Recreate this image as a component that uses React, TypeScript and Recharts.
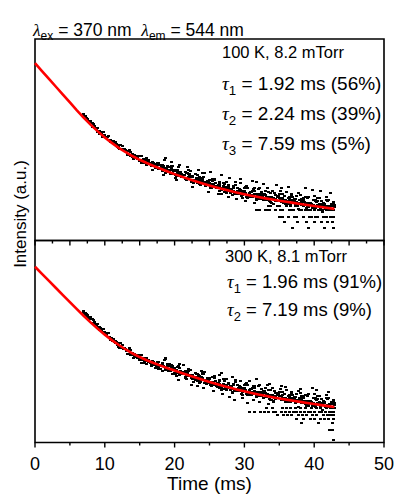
import { ScatterChart, Scatter, XAxis, YAxis, ReferenceArea } from 'recharts'

// sampling grids (ms)
const timesA = [7, 7.5, 8, 8.5, 9, 9.5, 10, 10.5, 11, 11.5, 12, 12.5, 13, 13.5, 14, 14.5, 15, 15.5, 16, 16.5, 17, 17.5, 18, 18.5, 19, 19.5, 20, 20.5, 21, 21.5, 22, 22.5, 23, 23.5, 24, 24.5, 25, 25.5, 26, 26.5, 27, 27.5, 28, 28.5, 29, 29.5, 30, 30.5, 31, 31.5, 32, 32.5, 33, 33.5, 34, 34.5, 35, 35.5, 36, 36.5, 37, 37.5, 38, 38.5, 39, 39.5, 40, 40.5, 41, 41.5, 42, 42.5]
const timesB = [7.25, 7.75, 8.25, 8.75, 9.25, 9.75, 10.25, 10.75, 11.25, 11.75, 12.25, 12.75, 13.25, 13.75, 14.25, 14.75, 15.25, 15.75, 16.25, 16.75, 17.25, 17.75, 18.25, 18.75, 19.25, 19.75, 20.25, 20.75, 21.25, 21.75, 22.25, 22.75, 23.25, 23.75, 24.25, 24.75, 25.25, 25.75, 26.25, 26.75, 27.25, 27.75, 28.25, 28.75, 29.25, 29.75, 30.25, 30.75, 31.25, 31.75, 32.25, 32.75, 33.25, 33.75, 34.25, 34.75, 35.25, 35.75, 36.25, 36.75, 37.25, 37.75, 38.25, 38.75, 39.25, 39.75, 40.25, 40.75, 41.25, 41.75, 42.25, 42.75]
const timesC = [7.125, 7.625, 8.125, 8.625, 9.125, 9.625, 10.125, 10.625, 11.125, 11.625, 12.125, 12.625, 13.125, 13.625, 14.125, 14.625, 15.125, 15.625, 16.125, 16.625, 17.125, 17.625, 18.125, 18.625, 19.125, 19.625, 20.125, 20.625, 21.125, 21.625, 22.125, 22.625, 23.125, 23.625, 24.125, 24.625, 25.125, 25.625, 26.125, 26.625, 27.125, 27.625, 28.125, 28.625, 29.125, 29.625, 30.125, 30.625, 31.125, 31.625, 32.125, 32.625, 33.125, 33.625, 34.125, 34.625, 35.125, 35.625, 36.125, 36.625, 37.125, 37.625, 38.125, 38.625, 39.125, 39.625, 40.125, 40.625, 41.125, 41.625, 42.125, 42.625]
const timesD = [7.375, 7.875, 8.375, 8.875, 9.375, 9.875, 10.375, 10.875, 11.375, 11.875, 12.375, 12.875, 13.375, 13.875, 14.375, 14.875, 15.375, 15.875, 16.375, 16.875, 17.375, 17.875, 18.375, 18.875, 19.375, 19.875, 20.375, 20.875, 21.375, 21.875, 22.375, 22.875, 23.375, 23.875, 24.375, 24.875, 25.375, 25.875, 26.375, 26.875, 27.375, 27.875, 28.375, 28.875, 29.375, 29.875, 30.375, 30.875, 31.375, 31.875, 32.375, 32.875, 33.375, 33.875, 34.375, 34.875, 35.375, 35.875, 36.375, 36.875, 37.375, 37.875, 38.375, 38.875, 39.375, 39.875, 40.375, 40.875, 41.375, 41.875, 42.375, 42.875]
const timesE = [18.2, 18.7, 19.2, 19.7, 20.2, 20.7, 21.2, 21.7, 22.2, 22.7, 23.2, 23.7, 24.2, 24.7, 25.2, 25.7, 26.2, 26.7, 27.2, 27.7, 28.2, 28.7, 29.2, 29.7, 30.2, 30.7, 31.2, 31.7, 32.2, 32.7, 33.2, 33.7, 34.2, 34.7, 35.2, 35.7, 36.2, 36.7, 37.2, 37.7, 38.2, 38.7, 39.2, 39.7, 40.2, 40.7, 41.2, 41.7, 42.2, 42.7]
const timesF = [18.45, 18.95, 19.45, 19.95, 20.45, 20.95, 21.45, 21.95, 22.45, 22.95, 23.45, 23.95, 24.45, 24.95, 25.45, 25.95, 26.45, 26.95, 27.45, 27.95, 28.45, 28.95, 29.45, 29.95, 30.45, 30.95, 31.45, 31.95, 32.45, 32.95, 33.45, 33.95, 34.45, 34.95, 35.45, 35.95, 36.45, 36.95, 37.45, 37.95, 38.45, 38.95, 39.45, 39.95, 40.45, 40.95, 41.45, 41.95, 42.45, 42.95]
const fitTimes = [0, 1, 2, 3, 4, 5, 6, 7, 8, 9, 10, 11, 12, 13, 14, 15, 16, 17, 18, 19, 20, 21, 22, 23, 24, 25, 26, 27, 28, 29, 30, 31, 32, 33, 34, 35, 36, 37, 38, 39, 40, 41, 42, 42.9]

const ticksTop = [0, 2.5, 5, 7.5, 10, 12.5, 15, 17.5, 20, 22.5, 25, 27.5, 30, 32.5, 35, 37.5, 40, 42.5, 45, 47.5, 50]
const ticksBottom = [0, 5, 10, 15, 20, 25, 30, 35, 40, 45, 50]

// 100 K panel (intensity, arbitrary units)
const topFit = [88, 84.1, 80.2, 76.3, 72.4, 68.5, 64.6, 60.9, 57.4, 54.15, 51.15, 48.45, 46.0, 43.8, 41.8, 40.05, 38.45, 37.0, 35.6, 34.25, 32.95, 31.7, 30.5, 29.37, 28.3, 27.28, 26.31, 25.39, 24.52, 23.7, 22.93, 22.21, 21.54, 20.91, 20.31, 19.74, 19.19, 18.66, 18.14, 17.63, 17.13, 16.63, 16.13, 15.68]
const topA1 = [62.1, 59.8, 58.4, 56.2, 53.9, 53.2, 51.6, 50.0, 49.6, 47.6, 45.7, 45.5, 44.7, 42.2, 41.5, 41.9, 39.7, 39.6, 37.7, 38.5, 37.3, 37.6, 35.4, 36.1, 34.7, 35.9, 33.1, 33.2, 33.2, 30.8, 31.3, 31.7, 29.5, 30.0, 30.2, 27.4, 27.7, 28.0, 26.3, 24.8, 26.0, 26.2, 23.8, 24.4, 24.4, 23.0, 24.6, 22.6, 21.4, 23.1, 22.0, 20.9, 22.5, 20.7, 21.3, 19.6, 20.9, 19.9, 18.5, 20.4, 18.8, 19.2, 20.2, 17.8, 18.3, 18.7, 16.7, 17.8, 17.0, 18.0, 15.8, 16.9]
const topA2 = [62.7, 60.3, 59.2, 56.7, 55.7, 52.9, 52.4, 51.8, 49.3, 48.7, 46.7, 47.1, 44.8, 45.1, 42.7, 41.2, 41.8, 40.3, 40.8, 38.2, 38.7, 38.7, 37.3, 39.9, 36.8, 37.0, 35.1, 36.6, 32.8, 34.0, 35.2, 31.8, 32.9, 31.4, 33.3, 29.2, 30.2, 30.5, 27.2, 29.1, 27.2, 29.2, 25.8, 26.8, 26.0, 28.3, 23.8, 26.0, 24.3, 25.9, 22.9, 24.1, 24.7, 21.4, 24.8, 22.5, 22.9, 21.3, 24.3, 21.7, 20.1, 22.0, 22.5, 20.0, 21.1, 18.6, 22.0, 19.5, 19.7, 18.2, 20.1, 18.2]
const topB1 = [60.6, 59.4, 56.5, 55.3, 54.1, 51.6, 51.1, 48.7, 48.8, 46.9, 45.3, 45.5, 42.4, 42.4, 40.7, 41.0, 38.3, 39.1, 38.8, 36.9, 37.8, 36.1, 34.5, 35.7, 34.6, 32.9, 34.6, 32.1, 32.4, 30.0, 31.6, 30.1, 28.7, 30.0, 27.9, 28.5, 26.1, 26.9, 27.4, 25.0, 25.0, 25.4, 22.7, 24.1, 24.4, 22.8, 21.7, 23.6, 22.4, 21.1, 22.1, 20.0, 21.8, 20.7, 19.9, 21.5, 18.9, 20.0, 19.1, 20.1, 17.5, 18.7, 19.1, 17.4, 18.8, 17.4, 16.3, 17.6, 17.9, 16.1, 16.6, 15.1]
const topB2 = [61.8, 58.5, 58.4, 55.5, 52.8, 53.6, 51.5, 49.6, 49.3, 46.6, 47.4, 45.3, 42.3, 44.0, 42.3, 40.3, 42.0, 38.4, 39.8, 38.2, 35.9, 38.6, 37.5, 40.8, 34.9, 36.9, 31.9, 37.4, 32.7, 33.5, 34.6, 28.3, 32.3, 29.5, 33.5, 29.7, 26.1, 30.2, 27.6, 32.3, 25.3, 27.5, 22.4, 28.8, 25.8, 24.2, 27.2, 21.4, 25.7, 28.9, 22.3, 23.1, 26.3, 19.1, 23.6, 21.4, 25.9, 22.1, 18.6, 23.2, 20.6, 23.4, 18.7, 21.5, 16.5, 25.0, 19.6, 21.0, 17.7, 21.8, 16.3, 19.0]
const topC = [61.6, 59.0, 58.2, 55.6, 54.2, 51.6, 51.6, 49.9, 48.2, 47.9, 45.3, 45.0, 44.0, 42.0, 40.4, 40.9, 39.8, 38.5, 39.1, 37.5, 37.4, 35.4, 36.7, 35.2, 34.2, 34.9, 32.6, 32.9, 32.6, 30.5, 32.0, 30.0, 30.0, 28.0, 29.2, 28.0, 26.7, 27.8, 25.9, 26.3, 24.3, 24.8, 25.1, 23.2, 23.8, 21.9, 23.6, 22.3, 21.6, 22.9, 20.7, 21.4, 21.6, 19.5, 20.9, 19.8, 20.8, 18.8, 19.6, 18.0, 19.4, 18.5, 17.7, 18.9, 17.4, 18.2, 16.0, 17.4, 16.8, 15.7, 17.0, 15.7]
const topD = [61.0, 58.7, 57.6, 55.1, 53.8, 51.8, 51.6, 49.7, 48.2, 47.5, 45.6, 45.2, 44.5, 42.2, 41.6, 41.9, 39.7, 39.8, 38.6, 39.0, 36.7, 37.4, 36.8, 35.5, 36.7, 34.6, 33.3, 34.2, 32.5, 33.3, 31.7, 30.2, 30.9, 30.7, 28.8, 29.0, 27.2, 28.7, 27.0, 25.8, 26.6, 25.2, 26.3, 24.1, 24.4, 24.7, 22.8, 24.2, 22.8, 22.0, 22.9, 23.2, 21.4, 21.6, 20.5, 21.8, 21.0, 19.9, 21.2, 19.8, 18.7, 19.9, 20.4, 18.7, 18.8, 17.8, 18.9, 17.8, 18.6, 16.8, 17.3, 16.5]
const topE = [36.8, 33.6, 36.5, 33.7, 31.1, 34.1, 32.2, 30.3, 33.2, 29.8, 30.9, 27.3, 31.3, 29.0, 25.9, 30.4, 26.8, 23.2, 27.9, 26.5, 23.9, 27.4, 24.4, 21.1, 26.4, 22.8, 24.7, 20.1, 26.0, 22.5, 20.1, 23.8, 18.2, 22.1, 24.5, 19.6, 17.9, 22.7, 20.4, 15.6, 20.8, 18.7, 21.8, 16.3, 20.0, 18.3, 14.2, 20.0, 16.5, 18.2]
const topF = [35.7, 36.4, 32.9, 34.4, 34.8, 31.5, 32.3, 32.8, 28.9, 29.7, 30.5, 30.9, 27.0, 28.5, 29.4, 26.1, 27.9, 28.7, 23.6, 25.2, 26.6, 23.0, 25.0, 26.0, 21.3, 22.7, 24.6, 25.5, 20.8, 22.4, 23.9, 18.7, 20.8, 22.2, 23.1, 18.2, 20.0, 21.7, 18.2, 20.1, 21.2, 16.2, 17.9, 19.9, 21.0, 15.8, 17.9, 19.6, 15.8, 17.8]
const topHigh = [[19.6, 39.2], [21.8, 36.4], [23.4, 34.9], [25.1, 33.8], [27.9, 31.0], [29.4, 30.6], [31.1, 29.3], [32.8, 28.1], [34.6, 27.4], [36.3, 26.5], [38.7, 25.9], [40.9, 24.6], [42.3, 23.7]]
const topLow = [[16.8, 35.2], [18.4, 32.4], [20.3, 29.8], [22.6, 26.4], [24.9, 24.0], [26.3, 22.9], [27.7, 21.5], [28.9, 20.6], [30.2, 19.4], [31.4, 18.6]]
const topRowLevels = [17.3, 14.9, 11.6, 9.1, 6.0]
const topRowTimes = [
  [33.4, 33.7, 34.8, 35.1, 36.0, 36.6, 37.3, 37.6, 38.5, 39.0, 39.8, 40.4, 41.1, 41.6, 42.0, 42.5, 42.8],
  [31.8, 32.1, 33.0, 33.3, 33.6, 34.5, 35.2, 35.5, 36.4, 36.7, 37.0, 37.9, 38.2, 38.8, 39.1, 39.4, 40.0, 40.6, 40.9, 41.2, 41.8, 42.1, 42.4, 42.7],
  [35.1, 35.4, 36.3, 37.2, 37.5, 38.4, 39.3, 39.6, 40.2, 40.5, 41.4, 41.7, 42.3, 42.6, 42.8],
  [35.8, 37.6, 38.9, 40.1, 41.0, 41.9, 42.6],
  [36.9, 39.2, 41.5, 42.7],
]

// 300 K panel
const botFit = [87, 83.5, 80, 76.5, 73, 69.5, 66.0, 62.6, 59.35, 56.3, 53.4, 50.7, 48.25, 46.05, 44.05, 42.3, 40.75, 39.35, 38.05, 36.8, 35.6, 34.42, 33.27, 32.15, 31.06, 30.0, 28.98, 28.0, 27.06, 26.17, 25.33, 24.54, 23.8, 23.1, 22.44, 21.82, 21.23, 20.66, 20.11, 19.57, 19.04, 18.52, 18.01, 17.56]
const botA1 = [64.5, 62.3, 61.2, 59.1, 56.9, 56.2, 54.1, 52.2, 51.5, 49.3, 47.1, 46.9, 46.1, 43.7, 43.1, 43.4, 41.0, 40.8, 38.9, 39.7, 38.5, 38.8, 36.5, 37.2, 35.8, 37.1, 34.3, 34.5, 34.5, 32.2, 32.7, 33.2, 31.0, 31.6, 31.8, 29.0, 29.4, 29.8, 28.1, 26.8, 28.0, 28.3, 26.0, 26.7, 26.7, 25.3, 26.8, 24.9, 23.7, 25.4, 24.3, 23.2, 24.7, 22.9, 23.3, 21.6, 22.9, 21.9, 20.4, 22.4, 20.7, 21.1, 22.0, 19.7, 20.1, 20.6, 18.5, 19.7, 18.9, 19.9, 17.7, 18.9]
const botA2 = [65.1, 62.9, 61.9, 59.6, 58.7, 55.9, 54.9, 54.0, 51.2, 50.4, 48.1, 48.5, 46.2, 46.6, 44.3, 42.7, 43.1, 41.6, 42.0, 39.5, 39.9, 39.8, 38.4, 41.0, 37.9, 38.2, 36.3, 37.9, 34.1, 35.4, 36.6, 33.3, 34.4, 33.0, 34.9, 30.8, 31.9, 32.3, 29.0, 31.1, 29.2, 31.3, 28.0, 29.1, 28.3, 30.6, 26.0, 28.3, 26.6, 28.2, 25.2, 26.4, 26.9, 23.6, 26.8, 24.5, 24.9, 23.3, 26.2, 23.7, 22.0, 23.9, 24.3, 21.9, 22.9, 20.5, 23.8, 21.4, 21.6, 20.1, 22.0, 20.2]
const botB1 = [63.1, 62.1, 59.2, 58.3, 57.1, 54.3, 53.4, 50.7, 50.6, 48.5, 46.7, 46.9, 43.8, 43.9, 42.3, 42.4, 39.6, 40.3, 40.0, 38.1, 39.0, 37.2, 35.6, 36.8, 35.7, 34.1, 35.8, 33.4, 33.7, 31.4, 33.0, 31.6, 30.2, 31.6, 29.5, 30.2, 27.9, 28.7, 29.3, 26.9, 27.0, 27.5, 24.9, 26.4, 26.6, 25.0, 24.0, 25.9, 24.7, 23.4, 24.3, 22.2, 23.9, 22.8, 21.9, 23.5, 20.9, 22.0, 21.0, 22.0, 19.4, 20.6, 20.9, 19.2, 20.6, 19.2, 18.1, 19.4, 19.8, 17.9, 18.5, 17.0]
const botB2 = [64.2, 61.2, 61.2, 58.5, 55.8, 56.3, 53.8, 51.6, 51.1, 48.2, 49.1, 46.7, 43.8, 45.6, 43.9, 41.7, 43.2, 39.6, 41.0, 39.4, 37.1, 39.7, 38.6, 41.9, 36.0, 38.1, 33.1, 38.7, 34.0, 34.9, 36.0, 29.8, 33.8, 31.1, 35.1, 31.4, 27.9, 32.0, 29.5, 34.2, 27.3, 29.6, 24.6, 31.1, 28.0, 26.4, 29.5, 23.7, 28.0, 31.2, 24.5, 25.3, 28.4, 21.2, 25.6, 23.4, 27.9, 24.1, 20.5, 25.1, 22.5, 25.3, 20.5, 23.3, 18.3, 26.8, 21.4, 22.8, 19.6, 23.6, 18.2, 20.9]
const botC = [64.0, 61.6, 60.9, 58.4, 57.2, 54.6, 54.1, 52.1, 50.1, 49.6, 46.7, 46.4, 45.4, 43.5, 42.0, 42.4, 41.1, 39.7, 40.3, 38.7, 38.6, 36.5, 37.8, 36.3, 35.3, 36.1, 33.8, 34.2, 33.9, 31.8, 33.4, 31.4, 31.5, 29.5, 30.8, 29.6, 28.4, 29.6, 27.7, 28.2, 26.3, 26.9, 27.3, 25.4, 26.1, 24.1, 25.8, 24.6, 23.9, 25.2, 23.0, 23.6, 23.8, 21.6, 22.9, 21.8, 22.8, 20.8, 21.5, 19.9, 21.3, 20.4, 19.5, 20.7, 19.2, 20.0, 17.8, 19.2, 18.7, 17.5, 18.9, 17.6]
const botD = [63.5, 61.4, 60.4, 58.1, 56.8, 54.5, 54.0, 51.7, 50.0, 49.1, 47.0, 46.6, 45.9, 43.7, 43.2, 43.3, 41.0, 41.0, 39.9, 40.2, 37.9, 38.5, 37.9, 36.6, 37.9, 35.8, 34.6, 35.5, 33.8, 34.6, 33.1, 31.7, 32.4, 32.3, 30.4, 30.6, 28.9, 30.5, 28.9, 27.8, 28.7, 27.4, 28.5, 26.4, 26.7, 27.0, 25.0, 26.5, 25.1, 24.3, 25.2, 25.5, 23.6, 23.7, 22.5, 23.8, 23.0, 21.9, 23.2, 21.7, 20.6, 21.7, 22.3, 20.5, 20.7, 19.6, 20.8, 19.7, 20.5, 18.7, 19.3, 18.4]
const botE = [39.3, 36.1, 39.1, 36.3, 33.8, 36.8, 34.9, 33.1, 35.9, 32.6, 33.7, 30.1, 34.1, 31.7, 28.6, 33.1, 29.5, 25.8, 30.5, 29.0, 26.5, 29.8, 26.9, 23.5, 28.8, 25.2, 27.0, 22.4, 28.3, 24.7, 22.3, 25.9, 20.3, 24.2, 26.6, 21.6, 19.9, 24.7, 22.4, 17.6, 22.8, 20.6, 23.8, 18.2, 21.9, 20.2, 16.1, 21.9, 18.4, 20.1]
const botF = [38.1, 38.9, 35.5, 37.0, 37.5, 34.2, 35.0, 35.5, 31.7, 32.5, 33.3, 33.7, 29.7, 31.2, 32.2, 28.8, 30.5, 31.3, 26.2, 27.7, 29.2, 25.5, 27.4, 28.4, 23.7, 25.1, 26.9, 27.8, 23.1, 24.6, 26.1, 20.8, 22.9, 24.3, 25.2, 20.2, 22.0, 23.7, 20.2, 22.1, 23.2, 18.1, 19.9, 21.8, 22.9, 17.7, 19.8, 21.5, 17.7, 19.7]
const botHigh = [[18.7, 41.3], [21.3, 38.2], [23.9, 35.6], [26.4, 33.2], [28.3, 32.4], [30.8, 30.2], [33.6, 28.9], [35.9, 27.6], [38.1, 26.4], [40.3, 25.9], [42.1, 25.1]]
const botLow = [[20.6, 31.0], [22.4, 28.6], [23.3, 28.0], [24.1, 27.0], [25.6, 25.3], [26.8, 23.9], [27.9, 22.6], [28.6, 20.8], [29.7, 22.1], [30.4, 19.6], [31.3, 21.0], [32.2, 19.9], [33.4, 18.9], [34.1, 20.1]]
const botRowLevels = [17.1, 15.1, 13.6, 11.6, 9.8, 6.2, 1.0]
const botRowTimes = [
  [33.2, 34.0, 35.4, 36.0, 36.6, 37.3, 38.1, 38.8, 39.6, 40.3, 40.9, 41.8, 42.4, 42.9],
  [30.8, 31.4, 32.3, 32.9, 33.5, 34.1, 34.4, 35.3, 35.9, 36.5, 37.1, 37.4, 38.0, 38.6, 39.2, 39.5, 40.1, 40.7, 41.0, 41.6, 42.2, 42.5, 42.8],
  [34.7, 35.6, 36.2, 36.8, 37.7, 38.3, 38.9, 39.8, 40.4, 41.3, 41.9, 42.4, 42.8],
  [37.5, 38.5, 39.4, 40.0, 40.9, 41.5, 42.0, 42.7],
  [38.2, 40.6, 42.6],
  [42.2, 42.6],
  [42.7],
]

type Pt = { t: number; y: number }
const pts = (ts: number[], ys: number[]): Pt[] => ts.map((t, i) => ({ t, y: ys[i] }))
const pairPts = (ps: number[][]): Pt[] => ps.map(([t, y]) => ({ t, y }))
const rowPts = (levels: number[], times: number[][]): Pt[] =>
  levels.flatMap((lv, i) => times[i].map((t) => ({ t, y: lv })))

const W = 396
const H = 496
const AXIS_H = 30
const FONT = '"Liberation Sans", Arial, sans-serif'
const GREEK = '"Liberation Serif", "Times New Roman", serif'

function Dot(props: any) {
  const { cx, cy } = props
  if (cx == null || cy == null) return <g />
  return <rect x={Math.round(cx - 1.5)} y={Math.round(cy - 1)} width={3} height={2} fill="#000" shapeRendering="crispEdges" />
}

function TopTick({ x, y, payload }: any) {
  const major = payload.value % 5 === 0
  return <line x1={x} x2={x} y1={y} y2={y + (major ? 5 : 3)} stroke="#000" strokeWidth={1.4} />
}

function BottomTick({ x, y, payload }: any) {
  const major = payload.value % 10 === 0
  return (
    <g>
      <line x1={x} x2={x} y1={y} y2={y + (major ? 5 : 3)} stroke="#000" strokeWidth={1.4} />
      {major && (
        <text x={x} y={y + 27.5} textAnchor="middle" fontSize={18} fontFamily={FONT} fill="#000">
          {payload.value}
        </text>
      )}
    </g>
  )
}

function Panel({ top, bottom, fit, dots, ticks, tick }: any) {
  return (
    <div style={{ position: 'absolute', left: 0, top: 0 }}>
      <ScatterChart width={W} height={H} margin={{ top, right: 12, bottom, left: 35 }}>
        <XAxis
          type="number"
          dataKey="t"
          domain={[0, 50]}
          ticks={ticks}
          interval={0}
          height={AXIS_H}
          axisLine={false}
          tickLine={false}
          tickSize={0}
          tickMargin={0}
          tick={tick}
        />
        <YAxis type="number" dataKey="y" domain={[0, 100]} hide />
        {dots.map((d: Pt[], i: number) => (
          <Scatter key={i} data={d} shape={Dot} isAnimationActive={false} />
        ))}
        <Scatter
          data={fit}
          shape={() => <g />}
          line={{ stroke: '#ff0000', strokeWidth: 2.6 }}
          lineType="joint"
          isAnimationActive={false}
        />
        <ReferenceArea x1={0} x2={50} y1={0} y2={100} fill="none" stroke="#000" strokeWidth={1.6} ifOverflow="visible" />
      </ScatterChart>
    </div>
  )
}

function Tau({ x, y, n, rest, size }: { x: number; y: number; n: string; rest: string; size: number }) {
  return (
    <text x={x} y={y} fontSize={size} fontFamily={FONT} fill="#000">
      <tspan fontFamily={GREEK} fontStyle="italic">τ</tspan>
      <tspan fontSize={size * 0.7} dy={5}>{n}</tspan>
      <tspan dy={-5}>{rest}</tspan>
    </text>
  )
}

export default function App() {
  const topDots = [
    pts(timesA, topA1), pts(timesA, topA2), pts(timesB, topB1), pts(timesB, topB2),
    pts(timesC, topC), pts(timesD, topD), pts(timesE, topE), pts(timesF, topF),
    pairPts(topHigh), pairPts(topLow), rowPts(topRowLevels, topRowTimes),
  ]
  const botDots = [
    pts(timesA, botA1), pts(timesA, botA2), pts(timesB, botB1), pts(timesB, botB2),
    pts(timesC, botC), pts(timesD, botD), pts(timesE, botE), pts(timesF, botF),
    pairPts(botHigh), pairPts(botLow), rowPts(botRowLevels, botRowTimes),
  ]
  return (
    <div style={{ position: 'absolute', left: 0, top: 0, width: W, height: H, background: '#fff' }}>
      <Panel top={39} bottom={H - 240.5 - AXIS_H} fit={pts(fitTimes, topFit)} dots={topDots} ticks={ticksTop} tick={<TopTick />} />
      <Panel top={240.5} bottom={H - 442.5 - AXIS_H} fit={pts(fitTimes, botFit)} dots={botDots} ticks={ticksBottom} tick={<BottomTick />} />
      <svg width={W} height={H} style={{ position: 'absolute', left: 0, top: 0, pointerEvents: 'none' }}>
        <text x={33} y={36} fontSize={17.5} fontFamily={FONT} fill="#000">
          <tspan fontFamily={GREEK} fontStyle="italic">λ</tspan>
          <tspan fontSize={12} dy={4}>ex</tspan>
          <tspan dy={-4}>{' = 370 nm\u00a0\u00a0'}</tspan>
          <tspan fontFamily={GREEK} fontStyle="italic">λ</tspan>
          <tspan fontSize={12} dy={4}>em</tspan>
          <tspan dy={-4}>{' = 544 nm'}</tspan>
        </text>
        <text x={222} y={58} fontSize={16.5} fontFamily={FONT} fill="#000">100 K, 8.2 mTorr</text>
        <Tau x={222} y={90} n="1" rest=" = 1.92 ms (56%)" size={19} />
        <Tau x={222} y={120} n="2" rest=" = 2.24 ms (39%)" size={19} />
        <Tau x={222} y={150} n="3" rest=" = 7.59 ms (5%)" size={19} />
        <text x={225} y={262} fontSize={16.5} fontFamily={FONT} fill="#000">300 K, 8.1 mTorr</text>
        <Tau x={227} y={288} n="1" rest=" = 1.96 ms (91%)" size={18.5} />
        <Tau x={227} y={316} n="2" rest=" = 7.19 ms (9%)" size={18.5} />
        <text
          x={20}
          y={214}
          fontSize={17}
          fontFamily={FONT}
          fill="#000"
          textAnchor="middle"
          dominantBaseline="central"
          transform="rotate(-90 20 214)"
        >
          Intensity (a.u.)
        </text>
        <text x={209.5} y={490} fontSize={19} fontFamily={FONT} fill="#000" textAnchor="middle">
          Time (ms)
        </text>
      </svg>
    </div>
  )
}
